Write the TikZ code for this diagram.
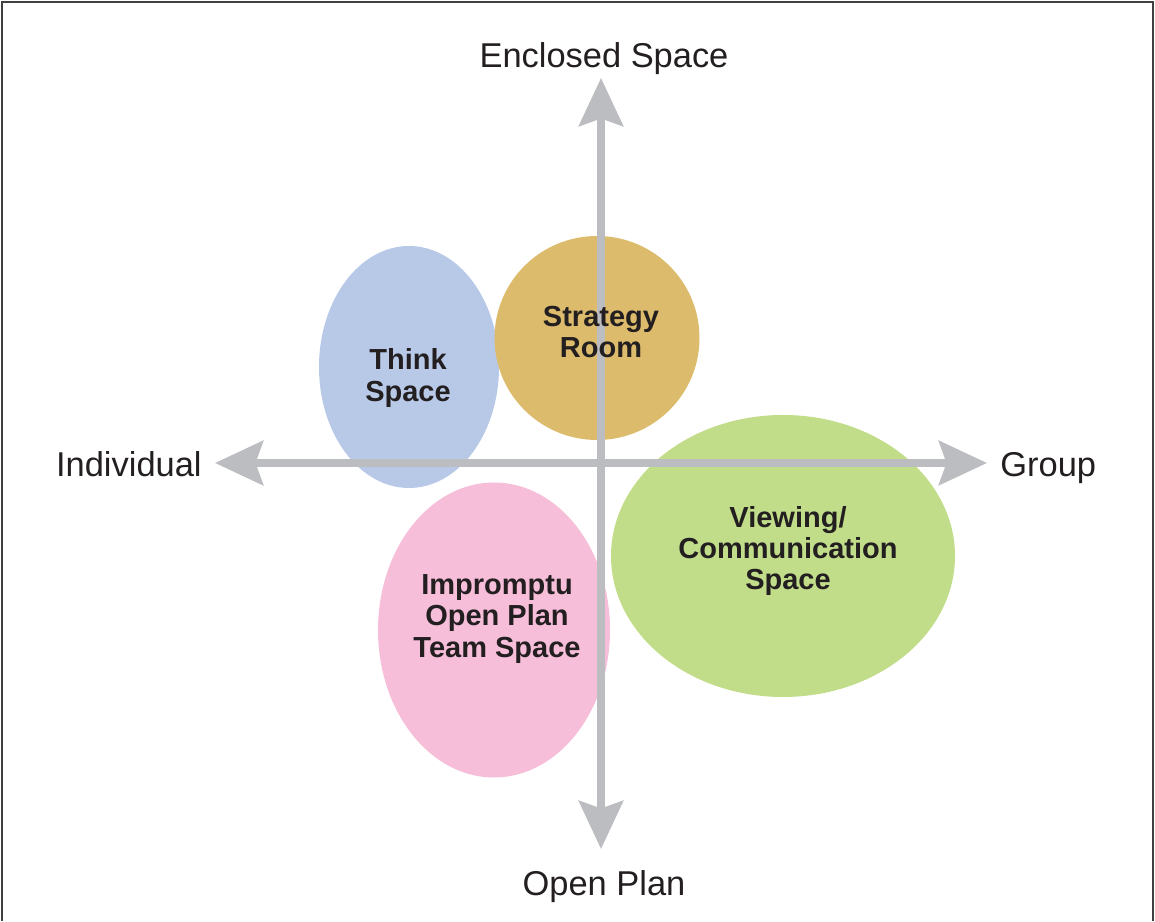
\documentclass[tikz,border=0pt]{standalone}
\usepackage{fontspec}
\setmainfont{Liberation Sans}
\usepackage{tikz}
\usetikzlibrary{positioning,shapes.geometric,arrows.meta}

\definecolor{axisgray}{HTML}{BCBDC1}
\definecolor{inkdark}{HTML}{231F20}
\definecolor{thinkblue}{HTML}{B8C9E8}
\definecolor{strategygold}{HTML}{DDBB6C}
\definecolor{viewgreen}{HTML}{C1DD8A}
\definecolor{teampink}{HTML}{F6BED9}

\begin{document}
\begin{tikzpicture}[
        zone/.style={ellipse,draw=none,inner sep=0pt},
        zonetext/.style={align=center,text=inkdark,font=\fontsize{16.5}{17.9}\selectfont\bfseries},
        axislabel/.style={text=inkdark,font=\fontsize{19.6}{24}\selectfont,inner sep=0pt},
        axisline/.style={draw=axisgray,line width=4.5pt,
            {Stealth[length=0.96cm,width=0.88cm,inset=0.15cm]}-{Stealth[length=0.96cm,width=0.88cm,inset=0.15cm]}}
    ]
        \useasboundingbox (0,0) rectangle (23.1,18.42);
        \draw[line width=1.1pt,draw=black!75] (0.04,0) -- (0.04,18.38) -- (23.06,18.38) -- (23.06,0);

        % the four work settings
        \node[zone,fill=thinkblue,minimum width=3.6cm,minimum height=4.84cm] (think) at (8.18,11.08) {};
        \node[zone,fill=strategygold,minimum width=4.1cm,minimum height=4.08cm] (strategy) at (11.94,11.66) {};
        \node[zone,fill=viewgreen,minimum width=6.88cm,minimum height=5.64cm] (viewing) at (15.66,7.3) {};
        \node[zone,fill=teampink,minimum width=4.64cm,minimum height=5.9cm] (team) at (9.88,5.82) {};

        % axes on top
        \coordinate (top) at (12.02,16.86);
        \coordinate (bottom) at (12.02,1.44);
        \coordinate (left) at (4.3,9.16);
        \coordinate (right) at (19.74,9.16);
        \draw[axisline] (bottom) -- (top);
        \draw[axisline] (left) -- (right);

        \node[zonetext] (thinklbl) at (8.16,10.86) {Think\\Space};
        \node[zonetext] (strategylbl) at (12.02,11.78) {Strategy\\Room};
        \node[zonetext] (viewinglbl) at (15.76,7.4) {Viewing/\\Communication\\Space};
        \node[zonetext] (teamlbl) at (9.94,6.04) {Impromptu\\Open Plan\\Team Space};

        \node[axislabel,anchor=base] (enclosed) at (12.08,17.06) {Enclosed Space};
        \node[axislabel,anchor=base] (open) at (12.08,0.52) {Open Plan};
        \node[axislabel,anchor=base east] (individual) at (4.04,8.88) {Individual};
        \node[axislabel,anchor=base west] (group) at (20.0,8.88) {Group};
    \end{tikzpicture}
\end{document}
